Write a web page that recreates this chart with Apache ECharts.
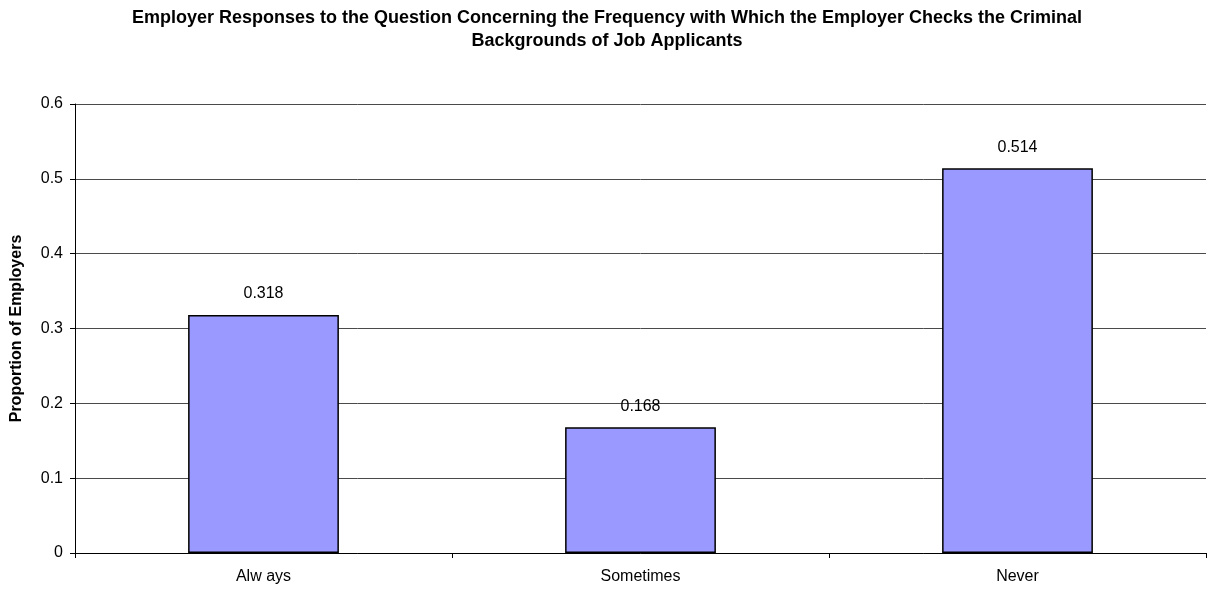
<!DOCTYPE html>
<html>
<head>
<meta charset="utf-8">
<script src="https://cdn.jsdelivr.net/npm/echarts@6/dist/echarts.min.js"></script>
<style>
  html, body { margin: 0; padding: 0; background: #fff; }
  #chart { width: 1208px; height: 591px; }
</style>
</head>
<body>
<div id="chart"></div>
<script>
// Survey answers: how often employers check applicants' criminal backgrounds
const categories = ['Alw ays', 'Sometimes', 'Never'];
const proportions = [0.318, 0.168, 0.514];
const yTicks = [0, 0.1, 0.2, 0.3, 0.4, 0.5, 0.6];

const FONT = '"Liberation Sans", Arial, sans-serif';

const chart = echarts.init(document.getElementById('chart'), null, { renderer: 'canvas' });
chart.setOption({
  animation: false,
  backgroundColor: '#ffffff',
  title: {
    text: 'Employer Responses to the Question Concerning the Frequency with Which the Employer Checks the Criminal\nBackgrounds of Job Applicants',
    left: 602,
    top: 2,
    textAlign: 'center',
    textStyle: { fontFamily: FONT, fontSize: 18, fontWeight: 'bold', color: '#000', lineHeight: 23 }
  },
  grid: { left: 75, right: 2, top: 104, bottom: 38, containLabel: false },
  xAxis: {
    type: 'category',
    data: categories,
    axisLine: { lineStyle: { color: '#000', width: 1 } },
    axisTick: { show: true, length: 5, interval: 0, lineStyle: { color: '#000' } },
    axisLabel: { fontFamily: FONT, fontSize: 16, color: '#000', margin: 16 },
    splitLine: { show: false }
  },
  yAxis: {
    type: 'value',
    min: yTicks[0],
    max: yTicks[yTicks.length - 1],
    interval: 0.1,
    name: 'Proportion of Employers',
    nameLocation: 'middle',
    nameGap: 50,
    nameRotate: 90,
    nameTextStyle: { fontFamily: FONT, fontSize: 16, fontWeight: 'bold', color: '#000' },
    axisLine: { show: true, lineStyle: { color: '#000', width: 1 } },
    axisTick: { show: true, length: 5, lineStyle: { color: '#000' } },
    axisLabel: {
      fontFamily: FONT, fontSize: 16, color: '#000', margin: 12,
      formatter: v => String(Math.round(v * 10) / 10)
    },
    splitLine: { show: true, lineStyle: { color: '#4a4a4a', width: 1 } }
  },
  series: [{
    type: 'bar',
    data: proportions,
    barWidth: '40%',
    itemStyle: { color: '#9999ff', borderColor: '#000', borderWidth: 1.5 },
    label: {
      show: true,
      position: 'top',
      distance: 13,
      fontFamily: FONT,
      fontSize: 16,
      color: '#000',
      formatter: p => String(p.value)
    }
  }]
});
</script>
</body>
</html>
